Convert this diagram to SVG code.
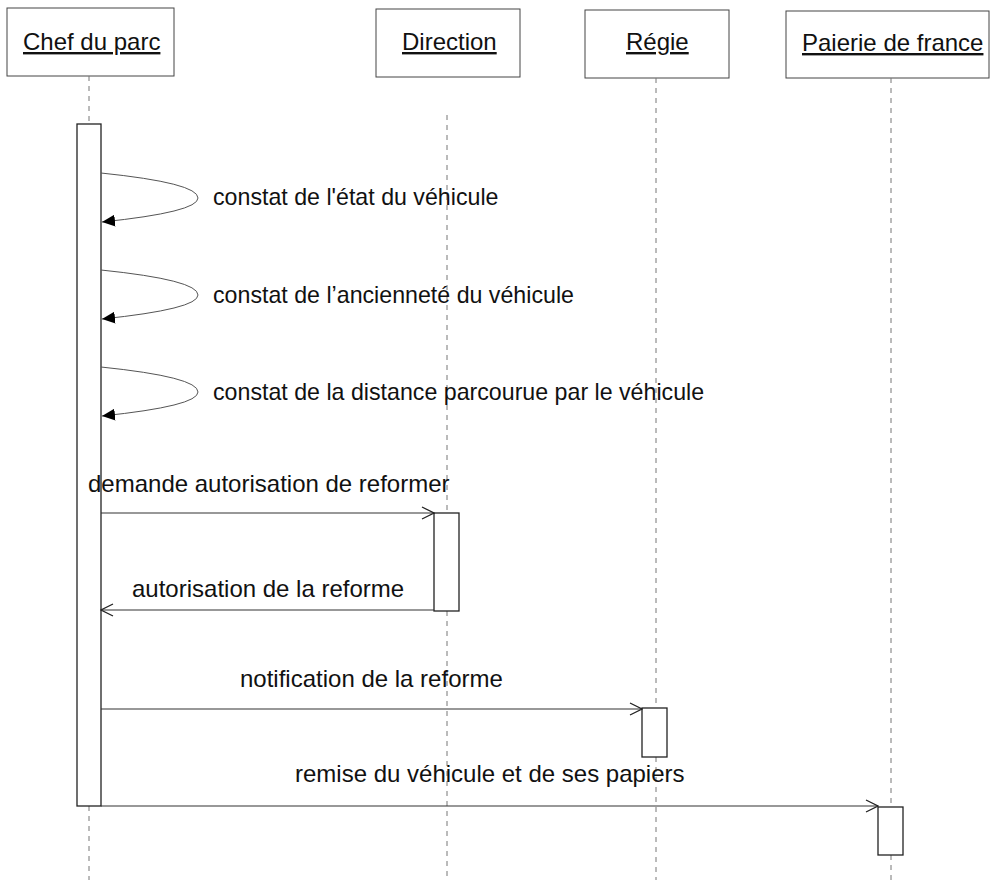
<svg xmlns="http://www.w3.org/2000/svg" width="990" height="880" viewBox="0 0 990 880">
<style>
.box{fill:#fff;stroke:#444;stroke-width:1}
.act{fill:#fff;stroke:#222;stroke-width:1.3}
.life{stroke:#777;stroke-width:1;stroke-dasharray:5 5;fill:none}
.t{font-family:"Liberation Sans",Arial,sans-serif;font-size:24px;fill:#111}
.lp{font-size:23.2px}
.u{text-decoration:underline}
.msg{stroke:#333;stroke-width:1.2;fill:none}
.loop{stroke:#555;stroke-width:1;fill:none}
</style>
<defs>
<marker id="open" markerWidth="14" markerHeight="14" refX="13" refY="7" orient="auto" markerUnits="userSpaceOnUse">
<path d="M1,1 L13,7 L1,13" fill="none" stroke="#222" stroke-width="1.3"/>
</marker>
<marker id="fill" markerWidth="14" markerHeight="12" refX="13" refY="6" orient="auto" markerUnits="userSpaceOnUse">
<path d="M0,0 L13,6 L0,12 Z" fill="#000"/>
</marker>
</defs>
<rect width="990" height="880" fill="#fff"/>
<g id="chef">
<rect class="box" x="7" y="8" width="167" height="68"/>
<text class="t u" x="23" y="50">Chef du parc</text>
<line class="life" x1="89" y1="76" x2="89" y2="124"/>
<line class="life" x1="89" y1="806" x2="89" y2="880"/>
<rect class="act" x="77" y="124" width="24" height="682"/>
</g>
<g id="direction">
<rect class="box" x="376" y="9" width="144" height="68"/>
<text class="t u" x="402" y="50">Direction</text>
<line class="life" x1="447" y1="115" x2="447" y2="513"/>
<line class="life" x1="447" y1="611" x2="447" y2="880"/>
<rect class="act" x="434" y="513" width="25" height="98"/>
</g>
<g id="regie">
<rect class="box" x="585" y="10" width="144" height="68"/>
<text class="t u" x="626" y="50">Régie</text>
<line class="life" x1="656" y1="78" x2="656" y2="708"/>
<line class="life" x1="656" y1="757" x2="656" y2="880"/>
<rect class="act" x="642" y="708" width="25" height="49"/>
</g>
<g id="paierie">
<rect class="box" x="786" y="11" width="203" height="67"/>
<text class="t u" x="802" y="51">Paierie de france</text>
<line class="life" x1="891" y1="78" x2="891" y2="807"/>
<line class="life" x1="891" y1="855" x2="891" y2="880"/>
<rect class="act" x="878" y="807" width="25" height="48"/>
</g>
<g id="connectors">
<path class="loop" d="M101,173 Q198,183 198,198 Q198,212 102,222" marker-end="url(#fill)"/>
<text class="t lp" x="213" y="205">constat de l'état du véhicule</text>
<path class="loop" d="M101,270 Q198,280 198,295 Q198,309 102,319" marker-end="url(#fill)"/>
<text class="t lp" x="213" y="303">constat de l’ancienneté du véhicule</text>
<path class="loop" d="M101,367 Q198,377 198,392 Q198,406 102,416" marker-end="url(#fill)"/>
<text class="t lp" x="213" y="400">constat de la distance parcourue par le véhicule</text>
<text class="t" x="88" y="492">demande autorisation de reformer</text>
<line class="msg" x1="101" y1="513" x2="434" y2="513" marker-end="url(#open)"/>
<text class="t" x="132" y="597">autorisation de la reforme</text>
<line class="msg" x1="434" y1="610" x2="101" y2="610" marker-end="url(#open)"/>
<text class="t" x="240" y="687">notification de la reforme</text>
<line class="msg" x1="101" y1="709" x2="642" y2="709" marker-end="url(#open)"/>
<text class="t" x="295" y="782">remise du véhicule et de ses papiers</text>
<line class="msg" x1="101" y1="806" x2="878" y2="806" marker-end="url(#open)"/>
</g>
</svg>
